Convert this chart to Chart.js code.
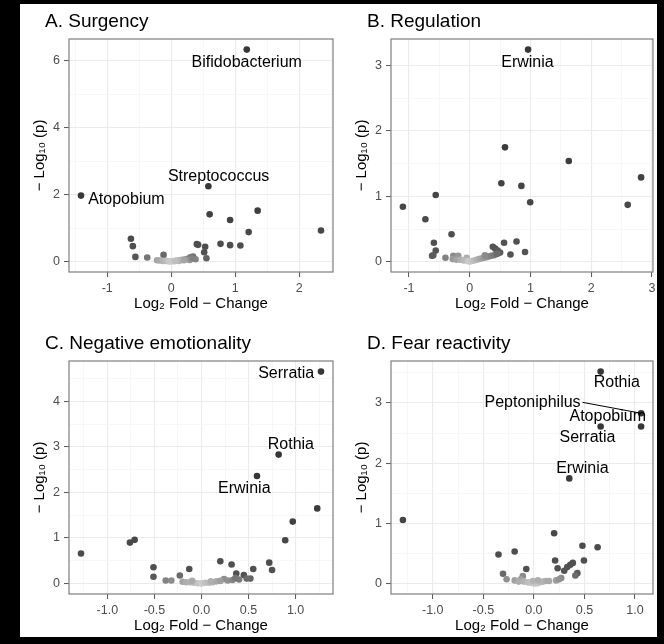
<!DOCTYPE html>
<html>
<head>
<meta charset="utf-8">
<script src="https://cdn.jsdelivr.net/npm/chart.js@4.4.1/dist/chart.umd.min.js"></script>
<style>
  html, body { margin: 0; padding: 0; background: #000; }
  #sheet { position: absolute; left: 20px; top: 4px; width: 637px; height: 633px; background: #fff; overflow: hidden; }
  canvas { position: absolute; }
</style>
</head>
<body>
<div id="sheet">
  <canvas id="cA" width="318" height="316" style="left:0;top:0"></canvas>
  <canvas id="cB" width="317" height="316" style="left:320px;top:0"></canvas>
  <canvas id="cC" width="318" height="316" style="left:0;top:322px"></canvas>
  <canvas id="cD" width="317" height="316" style="left:320px;top:322px"></canvas>
</div>
<script>
const FONT = '"Liberation Sans", Arial, Helvetica, sans-serif';

// ---- A. Surgency ----
const surgencyFC = [1.18, 0.58, -1.41, 0.60, 1.35, 0.92, 2.34, 1.21, -0.63, -0.60, -0.56, -0.375, -0.12,
  0.40, 0.42, 0.53, 0.515, 0.77, 0.92, 1.08, 0.55,
  -0.22, -0.18, -0.13, -0.08, -0.04, 0.00, 0.04, 0.09, 0.13, 0.17, 0.22, 0.26, 0.30, 0.34, 0.38, 0.29, 0.33, 0.12, -0.02, 0.06, 0.20];
const surgencyP = [6.33, 2.25, 1.97, 1.41, 1.52, 1.24, 0.93, 0.88, 0.68, 0.46, 0.14, 0.12, 0.20,
  0.52, 0.50, 0.44, 0.28, 0.53, 0.49, 0.48, 0.10,
  0.04, 0.03, 0.02, 0.02, 0.01, 0.01, 0.01, 0.03, 0.04, 0.05, 0.07, 0.08, 0.13, 0.15, 0.07, 0.05, 0.10, 0.02, 0.005, 0.02, 0.04];
const surgencyLabels = [['Bifidobacterium', 1.18, 5.93], ['Streptococcus', 0.74, 2.55], ['Atopobium', -0.70, 1.84]];

// ---- B. Regulation ----
const regulationFC = [0.96, 0.58, 1.63, 2.82, 0.52, 0.85, -0.56, 0.995, 2.60, -1.10, -0.73, -0.30, -0.59, -0.56,
  -0.62, -0.60, 0.565, 0.77, 0.91, 0.67, 0.38, 0.42, 0.46, 0.50, -0.40, -0.27, -0.19, -0.05,
  -0.28, -0.22, -0.15, -0.10, -0.03, 0.00, 0.03, 0.07, 0.11, 0.15, 0.19, 0.23, 0.27, 0.31, 0.35, 0.40, 0.45, 0.25];
const regulationP = [3.245, 1.75, 1.54, 1.29, 1.20, 1.16, 1.02, 0.91, 0.87, 0.84, 0.65, 0.42, 0.29, 0.17,
  0.09, 0.10, 0.29, 0.31, 0.15, 0.11, 0.23, 0.20, 0.17, 0.14, 0.06, 0.09, 0.09, 0.06,
  0.04, 0.03, 0.03, 0.02, 0.01, 0.005, 0.01, 0.02, 0.03, 0.04, 0.05, 0.06, 0.07, 0.08, 0.09, 0.10, 0.12, 0.10];
const regulationLabels = [['Erwinia', 0.95, 3.04]];

// ---- C. Negative emotionality ----
const negativeFC = [1.27, 0.82, 0.59, 1.23, 0.97, 0.89, -0.76, -0.71, -1.28, -0.51, -0.51, -0.13, -0.23,
  0.20, 0.32, 0.72, 0.75, 0.55, 0.37, 0.45, 0.52, 0.48, -0.38, -0.32, 0.24,
  -0.20, -0.16, -0.12, -0.08, -0.04, 0.00, 0.04, 0.08, 0.12, 0.16, 0.20, 0.28, 0.33, 0.40, 0.10, -0.10, 0.36];
const negativeP = [4.65, 2.83, 2.36, 1.65, 1.36, 0.95, 0.90, 0.96, 0.66, 0.36, 0.15, 0.32, 0.18,
  0.49, 0.42, 0.46, 0.30, 0.32, 0.22, 0.19, 0.11, 0.11, 0.07, 0.07, 0.10,
  0.04, 0.03, 0.03, 0.02, 0.01, 0.005, 0.02, 0.02, 0.03, 0.05, 0.06, 0.07, 0.08, 0.09, 0.05, 0.06, 0.12];
const negativeLabels = [['Serratia', 0.90, 4.61], ['Rothia', 0.95, 3.05], ['Erwinia', 0.455, 2.09]];

// ---- D. Fear reactivity ----
const fearFC = [0.66, 1.06, 0.66, 1.06, 0.35, -1.295, 0.20, 0.48, 0.63, -0.19, -0.35, 0.21, 0.495, -0.075,
  0.235, 0.30, 0.33, 0.36, 0.385, 0.43, 0.41, -0.305, -0.27, -0.11, -0.13, -0.19, 0.27,
  -0.15, -0.10, -0.06, -0.03, 0.00, 0.03, 0.06, 0.09, 0.12, 0.15, -0.01, 0.04, 0.22, 0.25];
const fearP = [3.52, 2.83, 2.61, 2.61, 1.75, 1.06, 0.84, 0.635, 0.61, 0.54, 0.49, 0.39, 0.39, 0.25,
  0.26, 0.22, 0.28, 0.32, 0.35, 0.18, 0.14, 0.17, 0.08, 0.13, 0.08, 0.06, 0.10,
  0.04, 0.04, 0.03, 0.02, 0.01, 0.01, 0.03, 0.04, 0.05, 0.05, 0.05, 0.06, 0.06, 0.08];
const fearLabels = [['Rothia', 0.82, 3.33], ['Peptoniphilus', -0.013, 3.01], ['Atopobium', 0.73, 2.78],
  ['Serratia', 0.53, 2.42], ['Erwinia', 0.48, 1.92]];

// tick positions (major get labels, minor only grid lines)
const xMajorA = [-1, 0, 1, 2],           xMinorA = [-1.5, -0.5, 0.5, 1.5, 2.5];
const yMajorA = [0, 2, 4, 6],            yMinorA = [1, 3, 5];
const xMajorB = [-1, 0, 1, 2, 3],        xMinorB = [-0.5, 0.5, 1.5, 2.5];
const yMajorB = [0, 1, 2, 3],            yMinorB = [0.5, 1.5, 2.5];
const xMajorC = [-1, -0.5, 0, 0.5, 1],   xMinorC = [-1.25, -0.75, -0.25, 0.25, 0.75, 1.25];
const yMajorC = [0, 1, 2, 3, 4],         yMinorC = [0.5, 1.5, 2.5, 3.5, 4.5];
const xMajorD = [-1, -0.5, 0, 0.5, 1],   xMinorD = [-1.25, -0.75, -0.25, 0.25, 0.75];
const yMajorD = [0, 1, 2, 3],            yMinorD = [0.5, 1.5, 2.5, 3.5];

const isMajor = (list, v) => list.some(m => Math.abs(m - v) < 1e-9);

// ggplot-like 5% expansion
function expand(v) {
  const lo = Math.min(...v), hi = Math.max(...v), d = (hi - lo) * 0.05;
  return [lo - d, hi + d];
}

// grey ramp: light near the origin, dark for big effects / small p
function shade(x, y) {
  const t = Math.min(1, Math.hypot(x / 0.7, y / 0.25));
  const g = Math.round(205 - 120 * t - 30 * Math.min(1, y / 2));
  return `rgb(${g},${g},${g})`;
}

const panelText = {
  id: 'panelText',
  afterDatasetsDraw(chart, args, opts) {
    const { ctx, chartArea: a, scales: { x, y } } = chart;
    ctx.save();
    ctx.fillStyle = '#000';
    ctx.font = `16px ${FONT}`;
    ctx.textAlign = 'center';
    ctx.textBaseline = 'middle';
    opts.labels.forEach(([t, lx, ly]) => ctx.fillText(t, x.getPixelForValue(lx), y.getPixelForValue(ly)));
    if (opts.segment) {
      const [i, tx, ty] = opts.segment;
      const [t, lx, ly] = opts.labels[i];
      const w = ctx.measureText(t).width;
      ctx.strokeStyle = '#000';
      ctx.lineWidth = 1;
      ctx.beginPath();
      ctx.moveTo(x.getPixelForValue(lx) + w / 2 + 2, y.getPixelForValue(ly));
      ctx.lineTo(x.getPixelForValue(tx), y.getPixelForValue(ty));
      ctx.stroke();
    }
    // panel border
    ctx.strokeStyle = '#7f7f7f';
    ctx.lineWidth = 1.2;
    ctx.strokeRect(a.left, a.top, a.right - a.left, a.bottom - a.top);
    // panel title
    ctx.font = `19px ${FONT}`;
    ctx.textAlign = 'left';
    ctx.textBaseline = 'alphabetic';
    ctx.fillText(opts.title, a.left - 24, a.top - 12);
    ctx.restore();
  }
};

function axis(major, minor, range, fmt, fit, title, titlePad) {
  return {
    type: 'linear',
    min: range[0],
    max: range[1],
    afterBuildTicks: s => { s.ticks = [...major, ...minor].sort((p, q) => p - q).map(v => ({ value: v })); },
    afterFit: fit,
    border: { display: false },
    grid: {
      color: c => isMajor(major, c.tick.value) ? '#ebebeb' : '#f5f5f5',
      lineWidth: c => isMajor(major, c.tick.value) ? 1.1 : 0.8,
      tickColor: c => isMajor(major, c.tick.value) ? '#555' : 'rgba(0,0,0,0)',
      tickLength: 5,
      tickWidth: 1
    },
    ticks: {
      autoSkip: false, maxRotation: 0, minRotation: 0,
      padding: 4,
      color: '#4d4d4d',
      font: { family: FONT, size: 12.5 },
      callback: v => isMajor(major, v) ? fmt(v) : ''
    },
    title: { display: true, text: title, color: '#000', font: { family: FONT, size: 15 }, padding: titlePad }
  };
}

function panel(id, title, fc, p, labels, xMajor, xMinor, yMajor, yMinor, fmtX, yWidth, padRight, segment) {
  const fmtInt = v => String(v);
  new Chart(document.getElementById(id), {
    type: 'scatter',
    data: {
      datasets: [{
        data: fc.map((v, i) => ({ x: v, y: p[i] })),
        pointRadius: 3.3,
        pointBorderWidth: 0,
        pointBackgroundColor: c => shade(c.raw.x, c.raw.y)
      }]
    },
    options: {
      responsive: false,
      animation: false,
      events: [],
      layout: { padding: { top: 35, right: padRight, left: 0, bottom: 0 } },
      plugins: {
        legend: { display: false },
        tooltip: { enabled: false },
        panelText: { title, labels, segment }
      },
      scales: {
        x: axis(xMajor, xMinor, expand(fc), fmtX,
          s => { s.height = 48; s.paddingLeft = 0; s.paddingRight = 0; },
          'Log\u2082 Fold \u2212 Change', { top: 0, bottom: 7 }),
        y: axis(yMajor, yMinor, expand(p), fmtInt,
          s => { s.width = yWidth; s.paddingTop = 0; s.paddingBottom = 0; },
          '\u2212 Log\u2081\u2080 (p)', { top: yWidth - 38, bottom: 0 })
      }
    },
    plugins: [panelText]
  });
}

const fmtI = v => String(v);
const fmt1 = v => v.toFixed(1);

panel('cA', 'A. Surgency', surgencyFC, surgencyP, surgencyLabels, xMajorA, xMinorA, yMajorA, yMinorA, fmtI, 49, 5, null);
panel('cB', 'B. Regulation', regulationFC, regulationP, regulationLabels, xMajorB, xMinorB, yMajorB, yMinorB, fmtI, 51, 3, null);
panel('cC', 'C. Negative emotionality', negativeFC, negativeP, negativeLabels, xMajorC, xMinorC, yMajorC, yMinorC, fmt1, 49, 5, null);
panel('cD', 'D. Fear reactivity', fearFC, fearP, fearLabels, xMajorD, xMinorD, yMajorD, yMinorD, fmt1, 51, 3, [1, 1.06, 2.83]);
</script>
</body>
</html>
